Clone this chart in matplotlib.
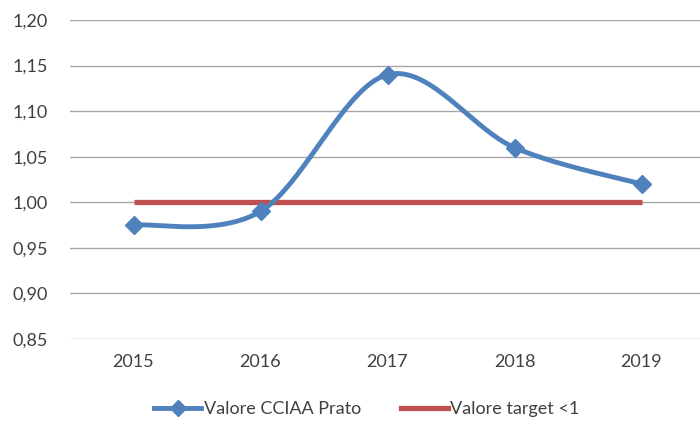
import matplotlib.pyplot as plt
import numpy as np

plt.rcParams["font.family"] = ["Lato", "DejaVu Sans"]

years = ["2015", "2016", "2017", "2018", "2019"]
valore_prato = [0.975, 0.99, 1.14, 1.06, 1.02]
valore_target = [1.0, 1.0, 1.0, 1.0, 1.0]
y_ticks = [0.85, 0.90, 0.95, 1.00, 1.05, 1.10, 1.15, 1.20]

BLUE = "#4F81BD"
RED = "#C0504D"
TEXT = "#404040"


def smooth_curve(x, y, n=40):
    # Catmull-Rom style Bezier smoothing (like Excel "smoothed line")
    x = np.asarray(x, dtype=float)
    y = np.asarray(y, dtype=float)
    px = np.concatenate([[x[0]], x, [x[-1]]])
    py = np.concatenate([[y[0]], y, [y[-1]]])
    xs, ys = [], []
    t = np.linspace(0, 1, n)
    for i in range(1, len(x)):
        p0 = np.array([px[i], py[i]])
        p3 = np.array([px[i + 1], py[i + 1]])
        c1 = p0 + (np.array([px[i + 1], py[i + 1]]) - np.array([px[i - 1], py[i - 1]])) / 6
        c2 = p3 - (np.array([px[i + 2], py[i + 2]]) - np.array([px[i], py[i]])) / 6
        b = ((1 - t) ** 3)[:, None] * p0 + (3 * (1 - t) ** 2 * t)[:, None] * c1 \
            + (3 * (1 - t) * t ** 2)[:, None] * c2 + (t ** 3)[:, None] * p3
        xs.extend(b[:, 0])
        ys.extend(b[:, 1])
    return np.array(xs), np.array(ys)


fig = plt.figure(figsize=(7.0, 4.22), dpi=100)
ax = fig.add_axes([0.1, 0.1967, 0.9, 0.7559])

xpos = np.arange(len(years))
ax.set_xlim(-0.5, -0.5 + 630 / 127)
ax.set_ylim(0.85, 1.20)

for v in y_ticks:
    ax.axhline(v, color="#A6A6A6", lw=1.0, zorder=1)

ax.plot(xpos, valore_target, color=RED, lw=3.8, solid_capstyle="butt", zorder=3,
        label="Valore target <1")
sx, sy = smooth_curve(xpos, valore_prato)
ax.plot(sx, sy, color=BLUE, lw=3.5, zorder=4)
ax.plot(xpos, valore_prato, ls="none", marker="D", ms=9, color=BLUE, zorder=5)

ax.set_yticks(y_ticks)
ax.set_yticklabels([f"{v:.2f}".replace(".", ",") for v in y_ticks])
ax.set_xticks(xpos)
ax.set_xticklabels(years)
ax.tick_params(axis="both", length=0, labelsize=13, labelcolor=TEXT)
ax.tick_params(axis="x", pad=11)
ax.tick_params(axis="y", pad=16)
for s in ax.spines.values():
    s.set_visible(False)

h1, = ax.plot([], [], color=BLUE, lw=3.5, marker="D", ms=8)
h2, = ax.plot([], [], color=RED, lw=3.8)
fig.legend([h1, h2], ["Valore CCIAA Prato", "Valore target <1"], loc="center",
           bbox_to_anchor=(0.524, 0.03), ncol=2, frameon=False, fontsize=13,
           labelcolor=TEXT, handlelength=2.6, handletextpad=0.15, columnspacing=2.2)

fig.savefig("out.png", dpi=100)
